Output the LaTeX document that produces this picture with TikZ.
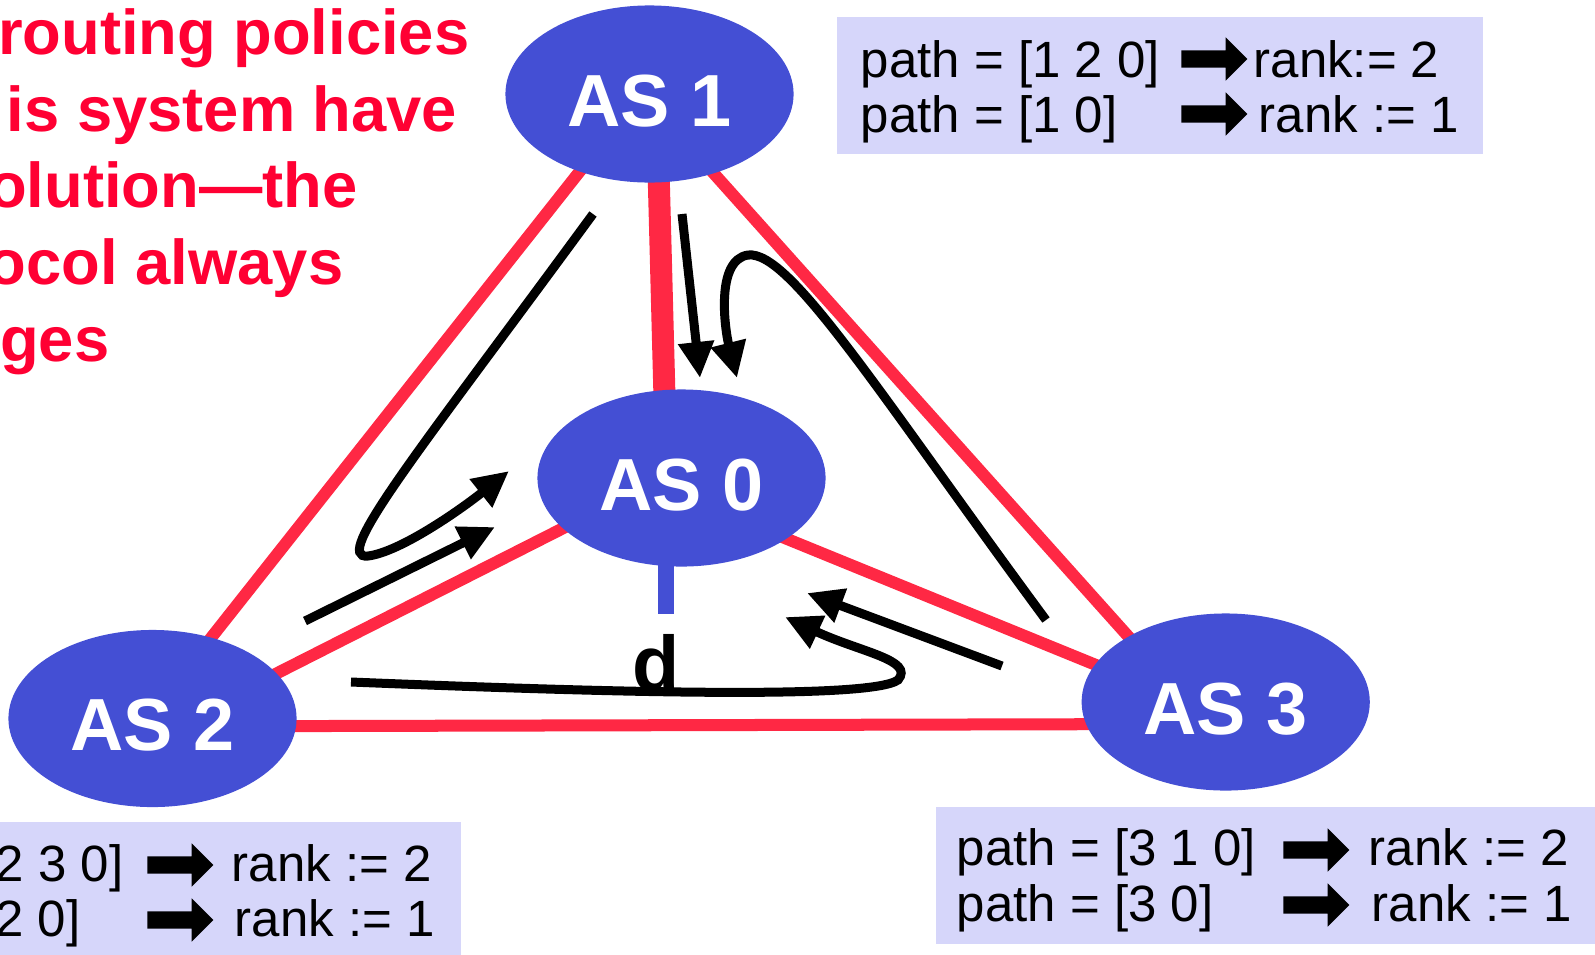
\documentclass[tikz,border=0pt]{standalone}
\usepackage{fontspec}
\setmainfont{Liberation Sans}
\usetikzlibrary{arrows.meta,shapes.geometric,shapes.arrows,backgrounds}
\definecolor{asblue}{RGB}{68,79,212}
\definecolor{linkred}{RGB}{255,40,68}
\definecolor{claimred}{RGB}{255,0,51}
\definecolor{boxfill}{RGB}{214,214,250}
\begin{document}
\begin{tikzpicture}
  [x=0.01cm,y=-0.01cm,
   as/.style={ellipse,fill=asblue,minimum width=2.88cm,minimum height=1.77cm,inner sep=0pt,text=white,text height=0.64cm,text depth=0pt,font=\fontsize{21}{25}\selectfont\bfseries},
   link/.style={linkred,line width=0.12cm,shorten <=-0.2cm,shorten >=-0.2cm},
   announce/.style={line width=0.09cm,-{Triangle[length=0.36cm,width=0.34cm]}},
   infobox/.style={rectangle,fill=boxfill,inner sep=0pt},
   txt/.style={inner sep=0pt,anchor=base west,font=\fontsize{14.5}{16}\selectfont},
   rankarrow/.style={single arrow,fill=black,inner xsep=0pt,inner ysep=0.08cm,minimum height=0.66cm,single arrow head extend=0.13cm},
   claim/.style={inner sep=0pt,anchor=base east,text=claimred,font=\fontsize{18}{21}\selectfont\bfseries}]
\useasboundingbox (0,0) rectangle (1595,954);

  \node[claim] (claim1) at (470,54) {routing policies};
  \node[claim] (claim2) at (458,131) {is system have};
  \node[claim] (claim3) at (358,207) {olution—the};
  \node[claim] (claim4) at (344,284) {ocol always};
  \node[claim] (claim5) at (110,361) {ges};

  \node[as] (as1) at (649.5,94) {AS 1};
  \node[as] (as0) at (681.5,478) {AS 0};
  \node[as] (as2) at (152.5,718.5) {AS 2};
  \node[as] (as3) at (1225.7,702) {AS 3};

  \node[font=\fontsize{22}{25}\selectfont\bfseries,inner sep=0pt,anchor=base] (dlabel) at (656,690) {d};
  \coordinate (dstub) at (666,614);

  \begin{scope}[on background layer]
  \foreach \from/\to in {as1.-132/as2.54, as1.-51/as3.146, as0.203/as2.20, as0.-30/as3.164, as2.-3/as3.189}
    \draw[link] (\from) -- (\to);
  \draw[link,line width=0.22cm] (as1.-84) -- (as0.101);
  \draw[asblue,line width=0.16cm] (as0.center -| dstub) -- (dstub);
  \end{scope}

  % route announcements
  \coordinate (c1s) at (593,214);  \coordinate (c1e) at (509,471);
  \coordinate (c2s) at (305,621);  \coordinate (c2e) at (495,527);
  \coordinate (c3s) at (682,214);  \coordinate (c3e) at (700,378);
  \coordinate (c4s) at (1046,620); \coordinate (c4e) at (737,378);
  \coordinate (c5s) at (1002,666); \coordinate (c5e) at (807,593);
  \coordinate (c6s) at (351,682);  \coordinate (c6e) at (785,617);

  \draw[announce] (c1s) .. controls (420,450) and (330,560) .. (368,556) .. controls (400,552) and (460,510) .. (c1e);
  \draw[announce] (c2s) -- (c2e);
  \draw[announce] (c3s) -- (c3e);
  \draw[announce] (c4s) .. controls (880,395) and (790,250) .. (748,255) .. controls (715,260) and (725,330) .. (c4e);
  \draw[announce] (c5s) -- (c5e);
  \draw[announce] (c6s) .. controls (600,692) and (870,700) .. (898,680) .. controls (915,660) and (860,652) .. (c6e);

  % ranking boxes
  \node[infobox,minimum width=6.46cm,minimum height=1.37cm] (box1) at (1160,85.5) {};
  \node[txt] (p1a) at (860,77) {path = [1 2 0]};
  \node[rankarrow] (r1a) at (1210,59) {};
  \node[txt] (k1a) at (1253,77) {rank:= 2};
  \node[txt] (p1b) at (860,132) {path = [1 0]};
  \node[rankarrow] (r1b) at (1210,114) {};
  \node[txt] (k1b) at (1258,132) {rank := 1};

  \node[infobox,minimum width=4.81cm,minimum height=1.40cm] (box2) at (220.5,892) {};
  \node[txt,anchor=base east] (p2a) at (124,881) {2 3 0]};
  \node[rankarrow] (r2a) at (176,865) {};
  \node[txt] (k2a) at (231,881) {rank := 2};
  \node[txt,anchor=base east] (p2b) at (81,936) {2 0]};
  \node[rankarrow] (r2b) at (176,920) {};
  \node[txt] (k2b) at (234,936) {rank := 1};

  \node[infobox,minimum width=6.64cm,minimum height=1.37cm] (box3) at (1268,875.5) {};
  \node[txt] (p3a) at (956,865) {path = [3 1 0]};
  \node[rankarrow] (r3a) at (1312,850) {};
  \node[txt] (k3a) at (1368,865) {rank := 2};
  \node[txt] (p3b) at (956,921) {path = [3 0]};
  \node[rankarrow] (r3b) at (1312,905) {};
  \node[txt] (k3b) at (1371,921) {rank := 1};
\end{tikzpicture}
\end{document}
